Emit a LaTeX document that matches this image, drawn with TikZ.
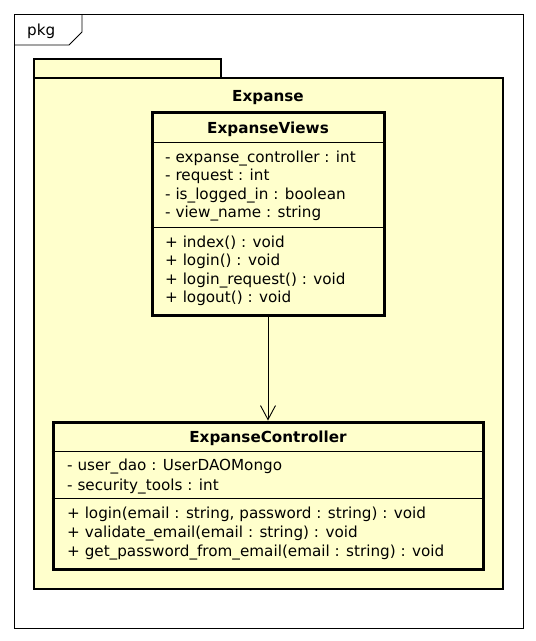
\documentclass[tikz,border=0pt]{standalone}
\usepackage{fontspec}
\setmainfont{DejaVu Sans}
\usetikzlibrary{arrows.meta}
\definecolor{umlfill}{RGB}{255,255,204}

\begin{document}
\begin{tikzpicture}[x=1pt,y=-1pt,
        every node/.style={font=\fontsize{15.2}{18}\selectfont, inner sep=0pt},
        classbox/.style={draw, line width=3pt, fill=umlfill},
        member/.style={anchor=base west},
        classtitle/.style={anchor=base, font=\fontsize{15.2}{18}\selectfont\bfseries},
        sepline/.style={line width=0.9pt}]
        \useasboundingbox (0,0) rectangle (536,641);

        % frame
        \draw[line width=0.9pt] (14,14) rectangle (523,628);
        \draw[line width=0.9pt] (14,45) -- (69,45) -- (82,32) -- (82,14);
        \node[anchor=base west] (pkg) at (27,35) {pkg};

        % package
        \filldraw[fill=umlfill, line width=2.5pt] (34,59) rectangle (221,78);
        \filldraw[fill=umlfill, line width=2.5pt] (34,78) rectangle (503,589);
        \node[classtitle] (expanse) at (268,101) {Expanse};

        % classes
        \node[classbox, minimum width=232pt, minimum height=203pt] (views) at (268,213.5) {};
        \node[classbox, minimum width=430pt, minimum height=147pt] (ctrl) at (268,495.5) {};

        \draw[sepline] (views.west |- 0,142) -- (views.east |- 0,142);
        \draw[sepline] (views.west |- 0,227) -- (views.east |- 0,227);
        \draw[sepline] (ctrl.west |- 0,451) -- (ctrl.east |- 0,451);
        \draw[sepline] (ctrl.west |- 0,498) -- (ctrl.east |- 0,498);

        \node[classtitle] (viewsname) at (268,133) {ExpanseViews};
        \node[member] (v1) at (165,162) {- expanse\_controller : int};
        \node[member] (v2) at (165,180) {- request : int};
        \node[member] (v3) at (165,199) {- is\_logged\_in : boolean};
        \node[member] (v4) at (165,217) {- view\_name : string};
        \node[member] (v5) at (165,247) {+ index() : void};
        \node[member] (v6) at (165,265) {+ login() : void};
        \node[member] (v7) at (165,284) {+ login\_request() : void};
        \node[member] (v8) at (165,302) {+ logout() : void};

        \node[classtitle] (ctrlname) at (268,442) {ExpanseController};
        \node[member] (c1) at (67,470) {- user\_dao : UserDAOMongo};
        \node[member] (c2) at (67,490) {- security\_tools : int};
        \node[member] (c3) at (67,518) {+ login(email : string, password : string) : void};
        \node[member] (c4) at (67,537) {+ validate\_email(email : string) : void};
        \node[member] (c5) at (67,556) {+ get\_password\_from\_email(email : string) : void};

        \draw[-{Straight Barb[length=14pt,width=15pt]}, line width=0.9pt] (views.south) -- (ctrl.north);
    \end{tikzpicture}
\end{document}
